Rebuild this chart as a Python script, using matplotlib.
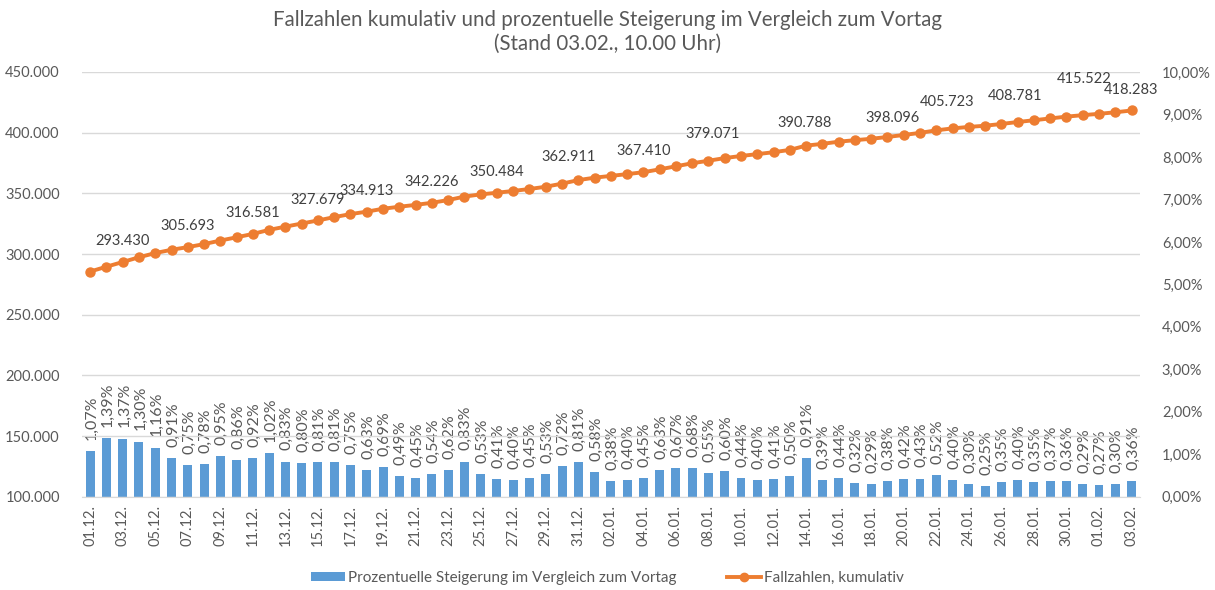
import numpy as np
import pandas as pd
import matplotlib
matplotlib.use("Agg")
import matplotlib.pyplot as plt
from matplotlib.ticker import FuncFormatter
from matplotlib.lines import Line2D
from matplotlib.patches import Patch

plt.rcParams["font.family"] = ["Lato", "DejaVu Sans"]

# Daily categories 01.12. .. 03.02.
dates = pd.date_range("2020-12-01", "2021-02-03").strftime("%d.%m.").tolist()

# Cumulative case numbers (left axis)
cumulative = [
    285586, 289556, 293430, 297339, 300788, 303525, 305693, 308186, 311114, 313790,
    316581, 319907, 322562, 325143, 327679, 330431, 332909, 334913, 337319, 338972,
    340498, 342226, 344459, 347317, 349158, 350484, 351995, 353579, 355453, 358012,
    360912, 362911, 364385, 365843, 367410, 369805, 372282, 374814, 376875, 379071,
    380804, 382323, 383891, 385810, 389321, 390788, 392559, 393815, 394957, 396457,
    398096, 399834, 401913, 403521, 404732, 405723, 407164, 408781, 410224, 411737,
    413218, 414417, 415522, 416783, 418283,
]

# Percentage increase vs. previous day (right axis)
pct_increase = [
    1.07, 1.39, 1.37, 1.30, 1.16, 0.91, 0.75, 0.78, 0.95, 0.86,
    0.92, 1.02, 0.83, 0.80, 0.81, 0.81, 0.75, 0.63, 0.69, 0.49,
    0.45, 0.54, 0.62, 0.83, 0.53, 0.41, 0.40, 0.45, 0.53, 0.72,
    0.81, 0.58, 0.38, 0.40, 0.45, 0.63, 0.67, 0.68, 0.55, 0.60,
    0.44, 0.40, 0.41, 0.50, 0.91, 0.39, 0.44, 0.32, 0.29, 0.38,
    0.42, 0.43, 0.52, 0.40, 0.30, 0.25, 0.35, 0.40, 0.35, 0.37,
    0.36, 0.29, 0.27, 0.30, 0.36,
]

# Points of the cumulative line that carry a data label
labelled_idx = [2, 6, 10, 14, 17, 21, 25, 31, 34, 39, 45, 50, 55, 57, 62, 64]

TITLE = "Fallzahlen kumulativ und prozentuelle Steigerung im Vergleich zum Vortag\n(Stand 03.02., 10.00 Uhr)"
BAR_CLR = "#5B9BD5"
LINE_CLR = "#ED7D31"
TXT_CLR = "#595959"
GRID_CLR = "#D9D9D9"
FS = 10.5

# hand-moved labels in the original (offsets in points)
LABEL_NUDGE = {31: (-19, 0), 39: (-9, 2), 45: (-13, 0), 50: (-8, -3),
               55: (-27, 2), 57: (-2, 4), 62: (-11, 10)}


def de_thousands(v):
    return f"{int(v):,}".replace(",", ".")


def de_pct(v, dec=2):
    return f"{v:.{dec}f}%".replace(".", ",")


x = np.arange(len(dates))

fig = plt.figure(figsize=(12.15, 5.9), dpi=100)
ax = fig.add_axes([0.0675, 0.158, 0.8705, 0.72])
ax2 = ax.twinx()

# bars on the secondary axis
ax2.bar(x, pct_increase, width=0.55, color=BAR_CLR, zorder=2)
for xi, v in zip(x, pct_increase):
    ax2.annotate(de_pct(v), (xi, v), xytext=(1, 8), textcoords="offset points",
                 rotation=90, ha="center", va="bottom", fontsize=11.5, color=TXT_CLR)
ax2.set_ylim(0, 10)
ax2.set_yticks(np.arange(0, 11, 1))
ax2.yaxis.set_major_formatter(FuncFormatter(lambda v, _: de_pct(v)))

# cumulative line on the primary axis, drawn above the twin
ax.set_zorder(ax2.get_zorder() + 1)
ax.patch.set_visible(False)
ax.plot(x, cumulative, color=LINE_CLR, lw=2.8, marker="o", ms=6.5, zorder=3)
for i in labelled_idx:
    dx, dy = LABEL_NUDGE.get(i, (0, 0))
    ax.annotate(de_thousands(cumulative[i]), (x[i], cumulative[i]), xytext=(dx, 10 + dy),
                textcoords="offset points", ha="center", va="bottom",
                fontsize=FS, color="#404040")
ax.set_ylim(100000, 450000)
ax.set_yticks(np.arange(100000, 450001, 50000))
ax.yaxis.set_major_formatter(FuncFormatter(lambda v, _: de_thousands(v)))
ax.grid(axis="y", color=GRID_CLR, lw=1)
ax.set_axisbelow(True)

ax.set_xlim(-0.5, len(dates) - 0.5)
ax.set_xticks(x[::2])
ax.set_xticklabels(dates[::2], rotation=90, fontsize=FS, color=TXT_CLR)

for a in (ax, ax2):
    for s in a.spines.values():
        s.set_visible(False)
    a.tick_params(length=0, labelsize=FS, labelcolor=TXT_CLR)
ax.spines["bottom"].set_visible(True)
ax.spines["bottom"].set_color(GRID_CLR)
ax.tick_params(axis="y", pad=16)
ax2.tick_params(axis="y", pad=16)
ax.tick_params(axis="x", pad=6)

fig.suptitle(TITLE, y=0.983, fontsize=14.8, color=TXT_CLR, linespacing=1.25)

handles = [
    Patch(facecolor=BAR_CLR, edgecolor="none"),
    Line2D([0], [0], color=LINE_CLR, lw=2.8, marker="o", ms=6),
]
fig.legend(handles, ["Prozentuelle Steigerung im Vergleich zum Vortag", "Fallzahlen, kumulativ"],
           loc="lower center", bbox_to_anchor=(0.5, -0.015), ncol=2, frameon=False,
           fontsize=11, labelcolor=TXT_CLR, columnspacing=3.3, handlelength=2.2,
           handletextpad=0.2, handleheight=0.5)

fig.savefig("out.png", dpi=100)
